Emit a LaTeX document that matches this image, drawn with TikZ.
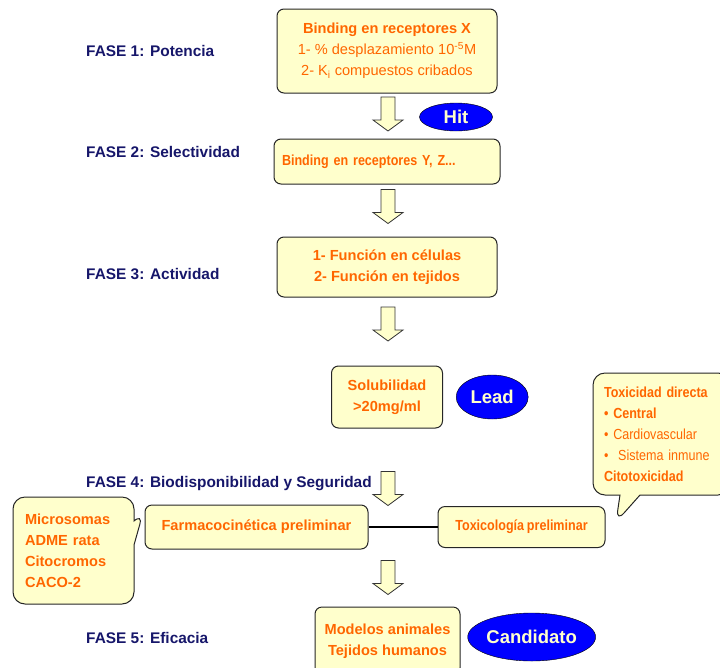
\documentclass[tikz,border=0pt]{standalone}
\usepackage{fontspec}
\setmainfont{Liberation Sans}
\newfontfamily\estrecha[FakeStretch=0.86, WordSpace=0.8]{Liberation Sans}
\usetikzlibrary{positioning,
                shapes.geometric,
                shapes.callouts}
\definecolor{naranja}{HTML}{FF6600}
\definecolor{crema}{HTML}{FFFFCC}
\definecolor{marino}{HTML}{16166A}
\definecolor{azulfase}{HTML}{0000FF}
\tikzset{
	caja/.style={draw=black!85, line width=1pt, fill=crema, rounded corners=7pt,
		text=naranja, align=center, inner sep=0pt,
		font=\bfseries\fontsize{14.6}{21}\selectfont},
	fase/.style={anchor=base west, text=marino, inner sep=0pt,
		font=\bfseries\fontsize{15.4}{18}\selectfont},
	flecha/.pic={
		\draw[fill=crema, draw=black!80, line width=0.8pt]
			(-7,-17) -- (7,-17) -- (7,6) -- (15,6) -- (0,17)
			-- (-15,6) -- (-7,6) -- cycle;
	},
	hito/.style={ellipse, draw=black, fill=azulfase, text=crema, inner sep=0pt,
		font=\bfseries\fontsize{18.5}{20}\selectfont},
	globo/.style={rectangle callout, draw=black!85, line width=1pt, fill=crema,
		rounded corners=12pt, text=naranja, align=left, inner sep=0pt,
		font=\bfseries\fontsize{14.6}{21}\selectfont}
}
\begin{document}
\begin{tikzpicture}[x=1pt, y=-1pt]
	\useasboundingbox (0,0) rectangle (720,667);
	% fases
	\node[fase] (fase1) at (86,56) {FASE 1: Potencia};
	\node[fase] (fase2) at (86,157) {FASE 2: Selectividad};
	\node[fase] (fase3) at (86,279) {FASE 3: Actividad};
	\node[fase] (fase4) at (86,487) {FASE 4: Biodisponibilidad y Seguridad};
	\node[fase] (fase5) at (86,643) {FASE 5: Eficacia};
	% columna central
	\node[caja, minimum width=220pt, minimum height=84pt] (recX) at (387,51)
		{Binding en receptores X\\ \mdseries 1- \% desplazamiento 10\textsuperscript{-5}M\\
		\mdseries 2- K\textsubscript{i} compuestos cribados};
	\pic (f1) at (388,114) {flecha};
	\node[hito, minimum width=73pt, minimum height=28pt] (hit) at (456,117) {Hit};
	\node[caja, below=45pt of recX, minimum width=226pt, minimum height=45pt,
		text width=210pt, align=left, font=\estrecha\bfseries\fontsize{14.6}{21}\selectfont]
		(recYZ) {Binding en receptores Y, Z...};
	\pic (f2) at (388,206.5) {flecha};
	\node[caja, below=52pt of recYZ, minimum width=220pt, minimum height=60pt] (funcion)
		{1- Función en células\\2- Función en tejidos};
	\pic (f3) at (388,324) {flecha};
	\node[caja, below=68pt of funcion, minimum width=111pt, minimum height=62pt] (solub)
		{Solubilidad\\>20mg/ml};
	\node[hito, right=13pt of solub, minimum width=72pt, minimum height=44pt] (lead) {Lead};
	\pic (f4) at (388,488.5) {flecha};
	% fase 4
	\node[caja, minimum width=223pt, minimum height=44pt] (farmaco) at (256.5,527)
		{Farmacocinética preliminar};
	\node[caja, right=69pt of farmaco, minimum width=167pt, minimum height=41pt,
		font=\estrecha\bfseries\fontsize{14.6}{21}\selectfont] (toxico)
		{Toxicología preliminar};
	\draw[line width=2.5pt] (farmaco) -- (toxico);
	\coordinate (puntaI) at (143,513);
	\coordinate (puntaD) at (616,522);
	\node[globo, callout absolute pointer=(puntaI), callout pointer width=24pt,
		minimum width=121pt, minimum height=107pt, text width=97pt] (ensayos)
		at (73.5,550.5) {Microsomas\\ADME rata\\Citocromos\\CACO-2};
	\node[globo, callout absolute pointer=(puntaD), callout pointer width=20pt,
		minimum width=137pt, minimum height=122pt, text width=115pt,
		font=\estrecha\bfseries\fontsize{14.6}{21}\selectfont] (toxicidad)
		at (661.5,434) {\bfseries Toxicidad directa\\ \bfseries\textbullet\ Central\\
		\mdseries\textbullet\ Cardiovascular\\ \mdseries\textbullet\ \ Sistema inmune\\
		\bfseries Citotoxicidad};
	% fase 5
	\pic (f5) at (388,577.5) {flecha};
	\node[caja, minimum width=145pt, minimum height=68pt] (modelos) at (387.5,641)
		{Modelos animales\\Tejidos humanos};
	\node[hito, right=7pt of modelos, yshift=4pt, minimum width=101pt,
		minimum height=48pt] (candidato) {Candidato};
\end{tikzpicture}
\end{document}
